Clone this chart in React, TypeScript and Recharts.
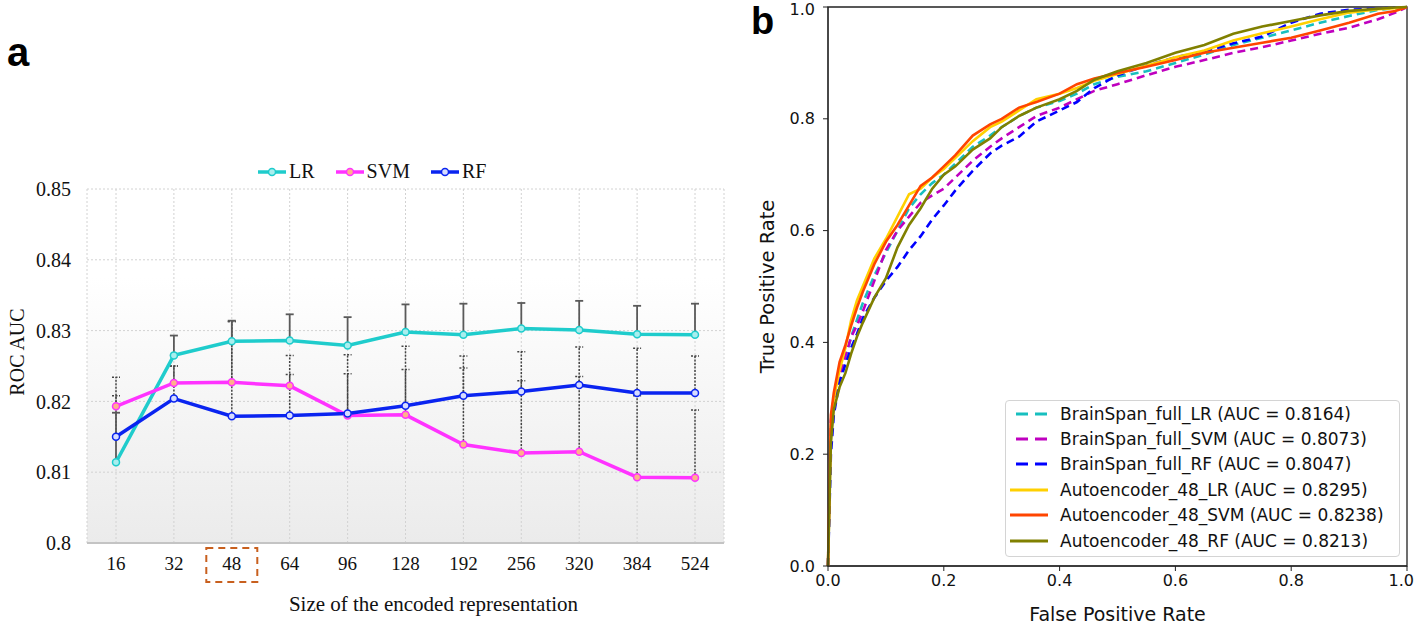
import React from "react";
import {
  CartesianGrid,
  ErrorBar,
  Label,
  Legend,
  Line,
  LineChart,
  ReferenceArea,
  XAxis,
  YAxis,
} from "recharts";

// ---- panel a: ROC AUC vs size of the encoded representation ----
const sizes = ["16", "32", "48", "64", "96", "128", "192", "256", "320", "384", "524"];
const lrAuc = [0.8114, 0.8265, 0.8285, 0.8286, 0.8279, 0.8298, 0.8294, 0.8303, 0.8301, 0.8295, 0.8294];
const svmAuc = [0.8193, 0.8226, 0.8227, 0.8222, 0.818, 0.8181, 0.8139, 0.8127, 0.8129, 0.8093, 0.8092];
const rfAuc = [0.815, 0.8204, 0.8179, 0.818, 0.8183, 0.8194, 0.8208, 0.8214, 0.8223, 0.8212, 0.8212];
// upper error only (std drawn above the mean)
const lrErr = [0.007, 0.0028, 0.0029, 0.0037, 0.004, 0.0039, 0.0044, 0.0036, 0.0041, 0.004, 0.0044];
const svmErr = [0.0041, 0.0024, 0.0086, 0.0016, 0.0059, 0.0064, 0.0108, 0.0102, 0.0106, 0.0115, 0.0096];
const rfErr = [0.0058, 0.0046, 0.0134, 0.0085, 0.0083, 0.0084, 0.0056, 0.0056, 0.0054, 0.0063, 0.0052];
const aucTicks = [0.8, 0.81, 0.82, 0.83, 0.84, 0.85];

// ---- panel b: ROC curves ----
const fprGrid = [0, 0.005, 0.01, 0.02, 0.03, 0.04, 0.05, 0.06, 0.08, 0.1, 0.12, 0.14, 0.16, 0.18, 0.2, 0.22, 0.25, 0.28, 0.3, 0.33, 0.36, 0.4, 0.43, 0.46, 0.5, 0.55, 0.6, 0.65, 0.7, 0.75, 0.8, 0.85, 0.9, 0.95, 0.98, 1];
const bsLrTpr = [0, 0.24, 0.29, 0.33, 0.37, 0.41, 0.44, 0.47, 0.52, 0.56, 0.6, 0.64, 0.665, 0.685, 0.7, 0.72, 0.75, 0.77, 0.785, 0.805, 0.82, 0.832, 0.845, 0.862, 0.875, 0.885, 0.9, 0.915, 0.932, 0.945, 0.958, 0.972, 0.984, 0.995, 0.998, 1];
const bsSvmTpr = [0, 0.26, 0.3, 0.34, 0.375, 0.41, 0.43, 0.455, 0.51, 0.565, 0.6, 0.625, 0.65, 0.663, 0.675, 0.695, 0.725, 0.75, 0.765, 0.785, 0.805, 0.82, 0.835, 0.85, 0.862, 0.878, 0.893, 0.905, 0.918, 0.928, 0.94, 0.952, 0.963, 0.978, 0.99, 1];
const bsRfTpr = [0, 0.2, 0.27, 0.33, 0.36, 0.39, 0.415, 0.443, 0.48, 0.51, 0.535, 0.565, 0.59, 0.62, 0.645, 0.672, 0.707, 0.738, 0.752, 0.768, 0.795, 0.815, 0.83, 0.855, 0.878, 0.895, 0.91, 0.92, 0.935, 0.947, 0.972, 0.988, 0.995, 0.997, 0.999, 1];
const aeLrTpr = [0, 0.25, 0.3, 0.35, 0.39, 0.44, 0.475, 0.5, 0.55, 0.585, 0.625, 0.665, 0.675, 0.695, 0.71, 0.73, 0.76, 0.785, 0.795, 0.815, 0.835, 0.845, 0.855, 0.868, 0.88, 0.895, 0.91, 0.922, 0.94, 0.953, 0.965, 0.978, 0.99, 0.996, 0.998, 1];
const aeSvmTpr = [0, 0.27, 0.31, 0.365, 0.395, 0.43, 0.462, 0.49, 0.54, 0.58, 0.61, 0.645, 0.68, 0.695, 0.715, 0.735, 0.77, 0.79, 0.8, 0.82, 0.83, 0.845, 0.862, 0.872, 0.882, 0.893, 0.905, 0.918, 0.927, 0.936, 0.945, 0.958, 0.972, 0.988, 0.993, 1];
const aeRfTpr = [0, 0.22, 0.28, 0.32, 0.345, 0.38, 0.41, 0.435, 0.48, 0.515, 0.57, 0.61, 0.64, 0.675, 0.7, 0.715, 0.745, 0.765, 0.785, 0.805, 0.82, 0.835, 0.85, 0.87, 0.885, 0.9, 0.918, 0.932, 0.952, 0.965, 0.975, 0.985, 0.993, 0.997, 0.999, 1];
const rateTicks = [0, 0.2, 0.4, 0.6, 0.8, 1];

const serif = '"Liberation Serif", "Times New Roman", serif';
const sans = '"DejaVu Sans", sans-serif';

const aucRows = sizes.map((size, i) => ({
  size,
  lr: lrAuc[i],
  svm: svmAuc[i],
  rf: rfAuc[i],
  lrErr: [0, lrErr[i]],
  svmErr: [0, svmErr[i]],
  rfErr: [0, rfErr[i]],
}));

const rocRows = fprGrid.map((fpr, i) => ({
  fpr,
  bsLr: bsLrTpr[i],
  bsSvm: bsSvmTpr[i],
  bsRf: bsRfTpr[i],
  aeLr: aeLrTpr[i],
  aeSvm: aeSvmTpr[i],
  aeRf: aeRfTpr[i],
}));

const aucSeries = [
  { key: "lr", name: "LR", color: "#1fcccc", fill: "#a8eeee" },
  { key: "svm", name: "SVM", color: "#ff33ff", fill: "#ffb08a" },
  { key: "rf", name: "RF", color: "#0a24f0", fill: "#d6dcff" },
];

const rocSeries = [
  { key: "bsLr", name: "BrainSpan_full_LR (AUC = 0.8164)", color: "#17bfbf", dashed: true },
  { key: "bsSvm", name: "BrainSpan_full_SVM (AUC = 0.8073)", color: "#bf00bf", dashed: true },
  { key: "bsRf", name: "BrainSpan_full_RF (AUC = 0.8047)", color: "#0000ff", dashed: true },
  { key: "aeLr", name: "Autoencoder_48_LR (AUC = 0.8295)", color: "#ffd000", dashed: false },
  { key: "aeSvm", name: "Autoencoder_48_SVM (AUC = 0.8238)", color: "#ff4500", dashed: false },
  { key: "aeRf", name: "Autoencoder_48_RF (AUC = 0.8213)", color: "#808000", dashed: false },
];

function SizeTick(props: any) {
  const { x, y, payload } = props;
  const boxed = payload.value === "48";
  return (
    <g>
      {boxed && (
        <rect
          x={x - 25.5}
          y={y - 9}
          width={51}
          height={34}
          fill="none"
          stroke="#c8601e"
          strokeWidth={2}
          strokeDasharray="7 5"
        />
      )}
      <text
        x={x}
        y={y}
        dy="0.71em"
        textAnchor="middle"
        fontSize={19}
        fontFamily={serif}
        fill="#111"
      >
        {payload.value}
      </text>
    </g>
  );
}

// last x tick sits on the page edge, so it is right-aligned there
function RateXTick(props: any) {
  const { x, y, payload } = props;
  const last = payload.value === 1;
  return (
    <text
      x={last ? x + 7 : x}
      y={y}
      dy="0.71em"
      textAnchor={last ? "end" : "middle"}
      fontSize={16}
      fontFamily={sans}
      fill="#111"
    >
      {Number(payload.value).toFixed(1)}
    </text>
  );
}

function AucLegend() {
  return (
    <div style={{ display: "flex", alignItems: "center", fontFamily: serif, fontSize: 20, color: "#111" }}>
      {aucSeries.map((s) => (
        <div key={s.key} style={{ display: "flex", alignItems: "center", marginRight: 21 }}>
          <svg width={28} height={20} style={{ marginRight: 3 }}>
            <line x1={0} y1={10} x2={28} y2={10} stroke={s.color} strokeWidth={3.5} />
            <circle cx={14} cy={10} r={3.5} fill={s.fill} stroke={s.color} strokeWidth={1.5} />
          </svg>
          <span>{s.name}</span>
        </div>
      ))}
    </div>
  );
}

function RocLegend() {
  return (
    <div
      style={{
        width: 393,
        height: 155,
        border: "1px solid #d4d4d4",
        borderRadius: 4,
        background: "rgba(255,255,255,0.85)",
        fontFamily: sans,
        fontSize: 17,
        color: "#111",
      }}
    >
      {rocSeries.map((s) => (
        <div key={s.key} style={{ display: "flex", alignItems: "center", height: 25.4 }}>
          <svg width={50} height={12} style={{ marginLeft: 4, flex: "none" }}>
            {s.dashed ? (
              <line x1={6} y1={6} x2={38} y2={6} stroke={s.color} strokeWidth={3} strokeDasharray="12 7" />
            ) : (
              <line x1={0} y1={6} x2={38} y2={6} stroke={s.color} strokeWidth={3} />
            )}
          </svg>
          <span style={{ whiteSpace: "nowrap" }}>{s.name}</span>
        </div>
      ))}
    </div>
  );
}

function AucPanel() {
  return (
    <LineChart width={740} height={624} data={aucRows} margin={{ top: 189, right: 16, bottom: 0, left: 7 }}>
      <defs>
        <linearGradient id="aucBg" x1="0" y1="0" x2="0" y2="1">
          <stop offset="0%" stopColor="#ffffff" />
          <stop offset="25%" stopColor="#ffffff" />
          <stop offset="100%" stopColor="#ebebeb" />
        </linearGradient>
      </defs>
      <CartesianGrid stroke="#d2d2d2" strokeDasharray="2 2" fill="url(#aucBg)" />
      <XAxis
        dataKey="size"
        padding={{ left: 29, right: 29 }}
        height={81}
        tickLine={false}
        tickSize={6}
        tickMargin={8}
        axisLine={{ stroke: "#c4c4c4", strokeWidth: 2 }}
        tick={<SizeTick />}
        interval={0}
      >
        <Label
          value="Size of the encoded representation"
          position="insideBottom"
          offset={13}
          dx={28}
          style={{ fontFamily: serif, fontSize: 21, fill: "#111" }}
        />
      </XAxis>
      <YAxis
        type="number"
        domain={[0.8, 0.85]}
        ticks={aucTicks}
        width={80}
        axisLine={false}
        tickLine={false}
        tickSize={6}
        tickMargin={10}
        tickFormatter={(v) => String(v)}
        tick={{ fontFamily: serif, fontSize: 20, fill: "#111" }}
      >
        <Label
          value="ROC AUC"
          angle={-90}
          position="insideLeft"
          offset={10}
          dy={-14}
          style={{ textAnchor: "middle", fontFamily: serif, fontSize: 20, fill: "#111" }}
        />
      </YAxis>
      {/* error bars first so the series lines sit on top of them */}
      <Line dataKey="svm" stroke="none" dot={false} legendType="none" isAnimationActive={false}>
        <ErrorBar dataKey="svmErr" direction="y" width={4} stroke="#444" strokeWidth={1.5} strokeDasharray="2 1.5" />
      </Line>
      <Line dataKey="rf" stroke="none" dot={false} legendType="none" isAnimationActive={false}>
        <ErrorBar dataKey="rfErr" direction="y" width={4} stroke="#444" strokeWidth={1.5} strokeDasharray="2 1.5" />
      </Line>
      <Line dataKey="lr" stroke="none" dot={false} legendType="none" isAnimationActive={false}>
        <ErrorBar dataKey="lrErr" direction="y" width={4} stroke="#5a5a5a" strokeWidth={1.8} />
      </Line>
      {aucSeries.map((s) => (
        <Line
          key={s.key}
          dataKey={s.key}
          name={s.name}
          type="linear"
          stroke={s.color}
          strokeWidth={3.5}
          dot={{ r: 3.5, fill: s.fill, stroke: s.color, strokeWidth: 1.5 }}
          isAnimationActive={false}
        />
      ))}
      <Legend
        layout="horizontal"
        align="center"
        verticalAlign="middle"
        content={() => <AucLegend />}
        wrapperStyle={{ left: 258, top: 160, width: 260, height: 22 }}
      />
    </LineChart>
  );
}

function RocPanel() {
  return (
    <LineChart width={675} height={624} data={rocRows} margin={{ top: 7, right: 8, bottom: 0, left: 18 }}>
      <XAxis
        dataKey="fpr"
        type="number"
        domain={[0, 1]}
        ticks={rateTicks}
        height={58}
        tickSize={5}
        tickMargin={4}
        stroke="#222"
        tick={<RateXTick />}
      >
        <Label
          value="False Positive Rate"
          position="insideBottom"
          offset={3}
          style={{ fontFamily: sans, fontSize: 19, fill: "#111" }}
        />
      </XAxis>
      <YAxis
        type="number"
        domain={[0, 1]}
        ticks={rateTicks}
        tickFormatter={(v) => Number(v).toFixed(1)}
        width={70}
        tickSize={5}
        tickMargin={8}
        stroke="#222"
        tick={{ fontFamily: sans, fontSize: 16, fill: "#111" }}
      >
        <Label
          value="True Positive Rate"
          angle={-90}
          position="insideLeft"
          offset={9}
          style={{ textAnchor: "middle", fontFamily: sans, fontSize: 19.5, fill: "#111" }}
        />
      </YAxis>
      <ReferenceArea x1={0} x2={1} y1={0} y2={1} fill="none" stroke="#222" strokeWidth={1.3} />
      {rocSeries.map((s) => (
        <Line
          key={s.key}
          dataKey={s.key}
          name={s.name}
          type="linear"
          stroke={s.color}
          strokeWidth={2.6}
          strokeDasharray={s.dashed ? "8 5" : undefined}
          dot={false}
          isAnimationActive={false}
        />
      ))}
      <Legend
        layout="vertical"
        align="center"
        verticalAlign="middle"
        content={() => <RocLegend />}
        wrapperStyle={{ left: 265, top: 400, width: 395, height: 157 }}
      />
    </LineChart>
  );
}

export default function App() {
  return (
    <div style={{ position: "absolute", left: 0, top: 0, width: 1415, height: 624, background: "#fff" }}>
      <div style={{ position: "absolute", left: 0, top: 0 }}>
        <AucPanel />
      </div>
      <div style={{ position: "absolute", left: 740, top: 0 }}>
        <RocPanel />
      </div>
      <svg width={1415} height={624} style={{ position: "absolute", left: 0, top: 0, pointerEvents: "none" }}>
        <text x={7} y={66} fontFamily='"Liberation Sans", Arial, sans-serif' fontWeight="bold" fontSize={40} fill="#000">
          a
        </text>
        <text x={751} y={34} fontFamily='"Liberation Sans", Arial, sans-serif' fontWeight="bold" fontSize={38} fill="#000">
          b
        </text>
      </svg>
    </div>
  );
}
